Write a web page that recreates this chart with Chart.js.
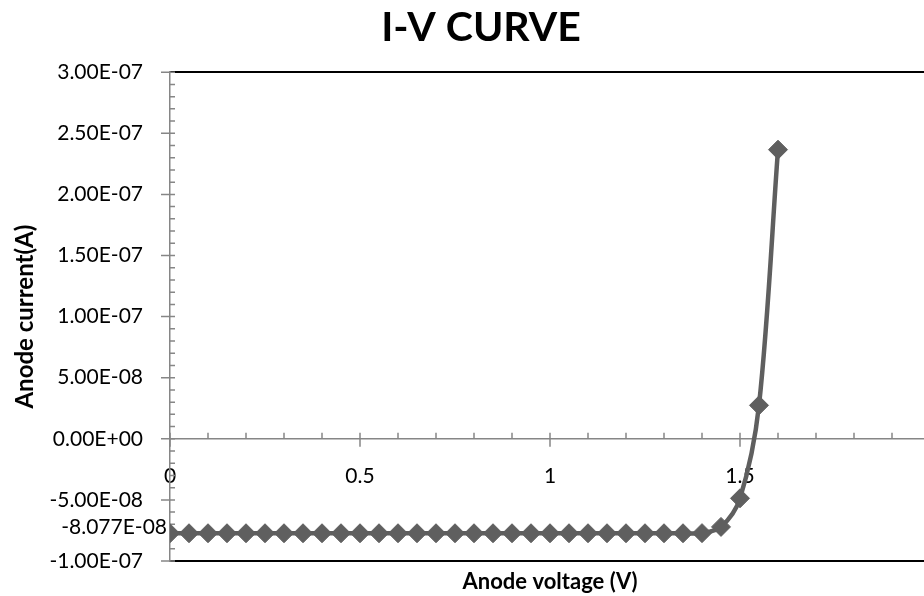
<!DOCTYPE html>
<html>
<head>
<meta charset="utf-8">
<title>I-V CURVE</title>
<script src="https://cdn.jsdelivr.net/npm/chart.js@4/dist/chart.umd.min.js"></script>
<style>
  html, body { margin: 0; padding: 0; background: #fff; overflow: hidden; }
  #wrap { width: 962px; height: 596px; }
</style>
</head>
<body>
<div id="wrap"><canvas id="ivChart" width="962" height="596"></canvas></div>
<script>
// Anode voltage (V)
const VOLTAGE = [
  0, 0.05, 0.1, 0.15, 0.2, 0.25, 0.3, 0.35, 0.4, 0.45,
  0.5, 0.55, 0.6, 0.65, 0.7, 0.75, 0.8, 0.85, 0.9, 0.95,
  1, 1.05, 1.1, 1.15, 1.2, 1.25, 1.3, 1.35, 1.4, 1.45,
  1.5, 1.55, 1.6
];
// Anode current (A)
const CURRENT = [
  -7.73e-8, -7.73e-8, -7.73e-8, -7.73e-8, -7.73e-8, -7.73e-8, -7.73e-8, -7.73e-8, -7.73e-8, -7.73e-8,
  -7.73e-8, -7.73e-8, -7.73e-8, -7.73e-8, -7.73e-8, -7.73e-8, -7.73e-8, -7.73e-8, -7.73e-8, -7.73e-8,
  -7.73e-8, -7.73e-8, -7.73e-8, -7.73e-8, -7.73e-8, -7.73e-8, -7.73e-8, -7.73e-8, -7.72e-8, -7.21e-8,
  -4.87e-8, 2.74e-8, 2.366e-7
];
const X_RANGE = [0, 2];
const Y_RANGE = [-1e-7, 3e-7];
const NOTE_VALUE = -8.077e-8;
const NOTE_TEXT = '-8.077E-08';

const FONT = 'Lato, "Open Sans", sans-serif';
const AXIS_GREY = '#868686';
const LINE_GREY = '#5f5f5f';

function sci(v) {
  if (Math.abs(v) < 1e-15) v = 0;
  const parts = v.toExponential(2).split('e');
  const n = parseInt(parts[1], 10);
  return parts[0] + 'E' + (n < 0 ? '-' : '+') + String(Math.abs(n)).padStart(2, '0');
}

// tick marks like excel: majors cross the axis, minors inside
const tickMarks = {
  id: 'tickMarks',
  beforeDatasetsDraw(chart) {
    const { ctx, scales: { x, y } } = chart;
    const ax = y.right;
    const ay = y.getPixelForValue(0);
    ctx.save();
    ctx.strokeStyle = AXIS_GREY;
    ctx.lineWidth = 1.5;
    ctx.beginPath();
    y.ticks.forEach((t, i) => {
      const p = y.getPixelForValue(t.value);
      ctx.moveTo(ax - 9, p); ctx.lineTo(ax + 5, p);
      if (i < y.ticks.length - 1) {
        const a = t.value, b = y.ticks[i + 1].value;
        for (let k = 1; k < 5; k++) {
          const q = y.getPixelForValue(a + (b - a) * k / 5);
          ctx.moveTo(ax, q); ctx.lineTo(ax + 5, q);
        }
      }
    });
    x.ticks.forEach((t, i) => {
      const p = x.getPixelForValue(t.value);
      ctx.moveTo(p, ay - 6); ctx.lineTo(p, ay + 8);
      if (i < x.ticks.length - 1) {
        const a = t.value, b = x.ticks[i + 1].value;
        for (let k = 1; k < 5; k++) {
          const q = x.getPixelForValue(a + (b - a) * k / 5);
          ctx.moveTo(q, ay - 6); ctx.lineTo(q, ay);
        }
      }
    });
    ctx.stroke();
    ctx.restore();
  },
  afterDraw(chart) {
    const { ctx, scales: { y } } = chart;
    ctx.save();
    ctx.font = '21px ' + FONT;
    ctx.fillStyle = '#000';
    ctx.textAlign = 'right';
    ctx.textBaseline = 'middle';
    ctx.fillText(NOTE_TEXT, y.right - 3, y.getPixelForValue(NOTE_VALUE) - 10);
    ctx.restore();
  }
};

const ctx = document.getElementById('ivChart').getContext('2d');
const ivChart = new Chart(ctx, {
  type: 'scatter',
  data: {
    datasets: [{
      label: 'I-V',
      data: VOLTAGE.map((v, i) => ({ x: v, y: CURRENT[i] })),
      xAxisID: 'x',
      yAxisID: 'y',
      showLine: true,
      borderColor: LINE_GREY,
      backgroundColor: LINE_GREY,
      borderWidth: 4.5,
      tension: 0.33,
      pointStyle: 'rectRot',
      pointRadius: 9.5,
      pointBorderWidth: 1,
      pointBorderColor: LINE_GREY,
      pointBackgroundColor: LINE_GREY
    }]
  },
  options: {
    responsive: false,
    animation: false,
    layout: { autoPadding: false },
    plugins: {
      legend: { display: false },
      tooltip: { enabled: false },
      title: {
        display: true,
        text: 'I-V CURVE',
        color: '#000',
        font: { family: FONT, size: 41, weight: 'bold' },
        padding: { top: 3, bottom: 20 }
      }
    },
    scales: {
      x: {
        type: 'linear',
        position: { y: 0 },
        min: X_RANGE[0],
        max: X_RANGE[1],
        afterFit: s => { s.height = 0; },
        grid: { display: false, drawTicks: false },
        border: { display: true, color: AXIS_GREY, width: 1.5 },
        ticks: {
          stepSize: 0.5,
          padding: 25,
          color: '#000',
          font: { family: FONT, size: 21 },
          maxRotation: 0,
          callback: v => String(v)
        }
      },
      x2: {
        type: 'linear',
        position: 'bottom',
        min: X_RANGE[0],
        max: X_RANGE[1],
        grid: { display: false, drawTicks: false },
        border: { display: true, color: '#000', width: 2 },
        ticks: { display: false },
        title: {
          display: true,
          text: 'Anode voltage (V)',
          color: '#000',
          font: { family: FONT, size: 22, weight: 'bold' },
          padding: { top: 8, bottom: 0.6 }
        }
      },
      x3: {
        type: 'linear',
        position: 'top',
        min: X_RANGE[0],
        max: X_RANGE[1],
        grid: { display: false, drawTicks: false },
        border: { display: true, color: '#000', width: 2 },
        ticks: { display: false }
      },
      y: {
        type: 'linear',
        position: 'left',
        min: Y_RANGE[0],
        max: Y_RANGE[1],
        // fixed width; label padding should not push the plot edges in
        afterFit: s => { s.width = 170; s.paddingTop = 0; s.paddingBottom = 0; },
        grid: { display: false, drawTicks: false },
        border: { display: true, color: AXIS_GREY, width: 1.5 },
        ticks: {
          stepSize: 5e-8,
          padding: 27,
          color: '#000',
          font: { family: FONT, size: 21 },
          callback: v => sci(v)
        },
        title: {
          display: true,
          text: 'Anode current(A)',
          color: '#000',
          font: { family: FONT, size: 24, weight: 'bold' },
          padding: { top: 11, bottom: 4 }
        }
      },
      // empty right side, the plot runs past the page edge
      yR: {
        type: 'linear',
        position: 'right',
        min: Y_RANGE[0],
        max: Y_RANGE[1],
        afterFit: s => { s.width = 32; },
        grid: { display: false, drawTicks: false },
        border: { display: false },
        ticks: { display: false }
      }
    }
  },
  plugins: [tickMarks]
});
</script>
</body>
</html>
